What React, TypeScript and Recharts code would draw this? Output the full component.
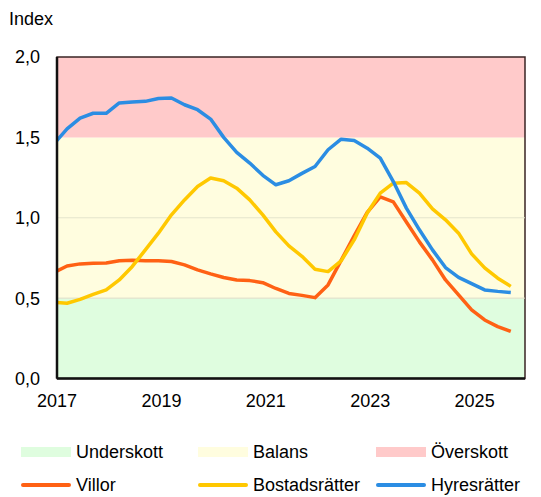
import React from 'react';
import {
  LineChart,
  Line,
  XAxis,
  YAxis,
  ReferenceArea,
  ReferenceLine,
} from 'recharts';

// quarterly index values, first point sits just left of the 2017 axis start
const villor = [
  0.66, 0.7, 0.713, 0.717, 0.718, 0.732, 0.735, 0.733, 0.733, 0.728, 0.707, 0.676,
  0.651, 0.628, 0.613, 0.609, 0.596, 0.56, 0.529, 0.517, 0.503, 0.582, 0.735, 0.887,
  1.034, 1.13, 1.099, 0.974, 0.85, 0.738, 0.613, 0.52, 0.427, 0.364, 0.323, 0.293,
];
const bostadsratter = [
  0.475, 0.468, 0.492, 0.523, 0.551, 0.613, 0.697, 0.8, 0.904, 1.018, 1.111, 1.194,
  1.247, 1.23, 1.184, 1.111, 1.018, 0.912, 0.825, 0.76, 0.68, 0.665, 0.732, 0.862,
  1.03, 1.153, 1.215, 1.219, 1.153, 1.055, 0.987, 0.904, 0.775, 0.688, 0.624, 0.573,
];
const hyresratter = [
  1.46, 1.553, 1.62, 1.65, 1.65, 1.714, 1.72, 1.724, 1.742, 1.745, 1.703, 1.672,
  1.614, 1.5, 1.407, 1.34, 1.264, 1.205, 1.23, 1.276, 1.319, 1.423, 1.489, 1.48,
  1.433, 1.371, 1.225, 1.06, 0.925, 0.8, 0.69, 0.629, 0.59, 0.551, 0.542, 0.535,
];

const FIRST_PERIOD = 2016.9425;
const yearTicks = [2017, 2019, 2021, 2023, 2025];
const valueTicks = [0, 0.5, 1, 1.5, 2];

const bands = [
  { name: 'Underskott', from: 0, to: 0.5, color: '#DFFDDF' },
  { name: 'Balans', from: 0.5, to: 1.5, color: '#FFFDDF' },
  { name: 'Överskott', from: 1.5, to: 2, color: '#FFCACA' },
];
const series = [
  { key: 'villor', name: 'Villor', color: '#FF6114' },
  { key: 'bostadsratter', name: 'Bostadsrätter', color: '#FFC800' },
  { key: 'hyresratter', name: 'Hyresrätter', color: '#2B8DE3' },
];

const data = villor.map((v, i) => ({
  t: FIRST_PERIOD + i / 4,
  villor: v,
  bostadsratter: bostadsratter[i],
  hyresratter: hyresratter[i],
}));

const FONT = '"Liberation Sans", Arial, sans-serif';
const FS = 18;
const X_MAX = 2025.965;

function LegendRow({ items, kind }: { items: { name: string; color: string }[]; kind: 'fill' | 'line' }) {
  const cols = [21, 198, 376];
  return (
    <>
      {items.map((it, i) => (
        <div key={it.name} style={{ position: 'absolute', left: cols[i], top: 0, display: 'flex', alignItems: 'center', height: 20 }}>
          <div
            style={{
              width: 50,
              height: kind === 'fill' ? 10 : 4,
              background: it.color,
              borderRadius: kind === 'line' ? 2 : 0,
              marginRight: 5,
            }}
          />
          <span style={{ fontSize: FS, color: '#000' }}>{it.name}</span>
        </div>
      ))}
    </>
  );
}

export default function App() {
  return (
    <div style={{ position: 'absolute', left: 0, top: 0, width: 541, height: 497, background: '#fff', fontFamily: FONT }}>
      <div style={{ position: 'absolute', left: 9, top: 10, fontSize: FS, lineHeight: '18px' }}>Index</div>
      <LineChart width={541} height={420} data={data} margin={{ top: 57, right: 16, bottom: 0, left: 0 }}>
        {bands.map((b) => (
          <ReferenceArea key={b.name} x1={2017} x2={X_MAX} y1={b.from} y2={b.to} fill={b.color} fillOpacity={1} stroke="none" />
        ))}
        <ReferenceLine y={0.5} stroke="#DCDCC6" strokeWidth={1} />
        <ReferenceLine y={1} stroke="#E4E4CC" strokeWidth={1} />
        <ReferenceArea x1={2017} x2={X_MAX} y1={0} y2={2} fill="none" stroke="#3A2424" strokeWidth={1.5} />
        <XAxis
          dataKey="t"
          type="number"
          domain={[2017, X_MAX]}
          allowDataOverflow
          ticks={yearTicks}
          tickFormatter={(v: number) => String(Math.round(v))}
          height={41.5}
          tickLine={false}
          tickMargin={9.5}
          axisLine={{ stroke: '#111', strokeWidth: 2.5 }}
          tick={{ fill: '#000', fontSize: FS, fontFamily: FONT }}
        />
        <YAxis
          type="number"
          domain={[0, 2]}
          ticks={valueTicks}
          width={57}
          tickLine={false}
          tickMargin={11}
          axisLine={{ stroke: '#111', strokeWidth: 2.5 }}
          tickFormatter={(v: number) => v.toFixed(1).replace('.', ',')}
          tick={{ fill: '#000', fontSize: FS, fontFamily: FONT }}
        />
        {series.map((s) => (
          <Line
            key={s.key}
            type="linear"
            dataKey={s.key}
            stroke={s.color}
            strokeWidth={3.5}
            strokeLinejoin="round"
            dot={false}
            activeDot={false}
            isAnimationActive={false}
          />
        ))}
      </LineChart>
      <div style={{ position: 'absolute', left: 0, top: 442, width: 541, height: 20 }}>
        <LegendRow items={bands} kind="fill" />
      </div>
      <div style={{ position: 'absolute', left: 0, top: 475, width: 541, height: 20 }}>
        <LegendRow items={series} kind="line" />
      </div>
    </div>
  );
}
